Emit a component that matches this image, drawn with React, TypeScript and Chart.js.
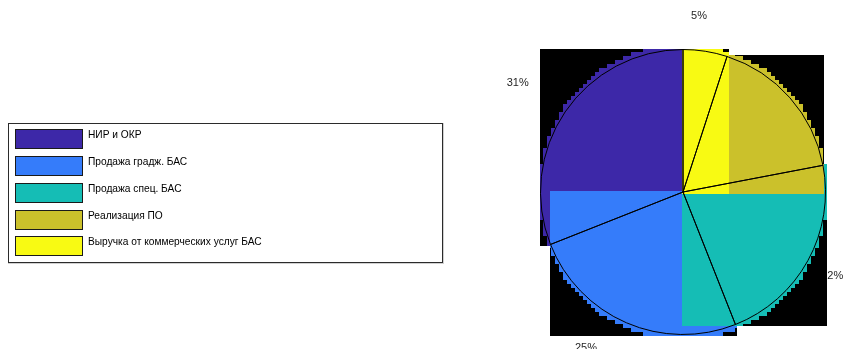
import React, { useEffect, useRef } from "react";
import { Chart, registerables } from "chart.js";

Chart.register(...registerables);

const categories = [
  "НИР и ОКР",
  "Продажа градж. БАС",
  "Продажа спец. БАС",
  "Реализация ПО",
  "Выручка от коммерческих услуг БАС",
];
const shares = [31, 25, 22, 17, 5];
const colors = ["#3d28a8", "#357cfa", "#15bdb5", "#cbc12b", "#f8fa13"];

// label placement styling (angle shift in degrees, radius factor)
const labelAngleShift = [0.8, -8.5, -0.7, 0, 3.8];
const labelRadiusFactor = [1.389, 1.288, 1.203, 1.1, 1.243];

const n = categories.length;
// Chart.js runs clockwise from the top; MATLAB-like order runs counter-clockwise
const dsIndex = (i: number) => n - 1 - i;

const matlabPlugin = {
  id: "matlabPie",
  beforeDatasetsDraw(chart: any) {
    const ctx = chart.ctx;
    const meta = chart.getDatasetMeta(0);
    const total = shares.reduce((a, b) => a + b, 0);
    // percentage labels (drawn first, occluded by the boxes later)
    ctx.save();
    ctx.font = "11px 'Liberation Sans', Arial, sans-serif";
    ctx.fillStyle = "#262626";
    ctx.textAlign = "center";
    ctx.textBaseline = "middle";
    for (let i = 0; i < n; i++) {
      const arc = meta.data[dsIndex(i)];
      const { x, y, outerRadius, startAngle, endAngle } = arc.getProps(
        ["x", "y", "outerRadius", "startAngle", "endAngle"],
        true
      );
      const mid = (startAngle + endAngle) / 2 - (labelAngleShift[i] * Math.PI) / 180;
      const rr = outerRadius * labelRadiusFactor[i];
      const txt = Math.round((shares[i] / total) * 100) + "%";
      ctx.fillText(txt, x + rr * Math.cos(mid), y + rr * Math.sin(mid));
    }
    ctx.restore();

    // per-slice bounding images: black box + stepped coloured disc
    for (let i = 0; i < n; i++) {
      const arc = meta.data[dsIndex(i)];
      const { x, y, outerRadius, startAngle, endAngle } = arc.getProps(
        ["x", "y", "outerRadius", "startAngle", "endAngle"],
        true
      );
      const R = outerRadius;
      const pts: number[][] = [[x, y]];
      pts.push([x + R * Math.cos(startAngle), y + R * Math.sin(startAngle)]);
      pts.push([x + R * Math.cos(endAngle), y + R * Math.sin(endAngle)]);
      const q = Math.PI / 2;
      for (let k = Math.ceil(startAngle / q); k <= Math.floor(endAngle / q); k++) {
        pts.push([x + R * Math.cos(k * q), y + R * Math.sin(k * q)]);
      }
      let x0 = Infinity, x1 = -Infinity, y0 = Infinity, y1 = -Infinity;
      pts.forEach(([px, py]) => {
        x0 = Math.min(x0, px);
        x1 = Math.max(x1, px);
        y0 = Math.min(y0, py);
        y1 = Math.max(y1, py);
      });
      x0 = Math.round(x0 - 1);
      y0 = Math.round(y0 - 1);
      x1 = Math.round(x1 + 1.5);
      y1 = Math.round(y1 + 1.5);
      ctx.save();
      ctx.fillStyle = "#000";
      ctx.fillRect(x0, y0, x1 - x0, y1 - y0);
      ctx.beginPath();
      ctx.rect(x0, y0, x1 - x0, y1 - y0);
      ctx.clip();
      ctx.fillStyle = colors[i];
      const Rf = R + 4;
      const step = 4;
      const cx = Math.round(x);
      const cy = Math.round(y);
      for (let yy = cy - Math.ceil(Rf / step) * step; yy < cy + Rf; yy += step) {
        const a = yy - cy;
        const b = yy + step - cy;
        const dyNear = a <= 0 && b >= 0 ? 0 : Math.min(Math.abs(a), Math.abs(b));
        if (dyNear >= Rf) continue;
        let hw = Math.sqrt(Rf * Rf - dyNear * dyNear);
        hw = Math.floor(hw / step) * step;
        ctx.fillRect(cx - hw, yy, 2 * hw, step);
      }
      ctx.restore();
    }
  },
  afterDraw(chart: any) {
    const ctx = chart.ctx;
    ctx.save();
    // legend box
    ctx.fillStyle = "#ffffff";
    ctx.fillRect(8, 123, 435, 140);
    ctx.strokeStyle = "#d0d0d0";
    ctx.lineWidth = 1;
    ctx.strokeRect(8.5, 123.5, 435, 140);
    ctx.strokeStyle = "#2b2b2b";
    ctx.strokeRect(8.5, 123.5, 434, 139);
    ctx.font = "10.2px 'Liberation Sans', Arial, sans-serif";
    ctx.textAlign = "left";
    ctx.textBaseline = "top";
    for (let i = 0; i < n; i++) {
      const top = Math.round(129 + i * 26.85);
      ctx.fillStyle = colors[i];
      ctx.fillRect(15, top, 68, 20);
      ctx.strokeStyle = "#1a1a1a";
      ctx.strokeRect(15.5, top + 0.5, 67, 19);
      ctx.fillStyle = "#000";
      ctx.fillText(categories[i], 88, top + 1);
    }
    ctx.restore();
  },
};

export default function App() {
  const ref = useRef<HTMLCanvasElement>(null);
  useEffect(() => {
    if (!ref.current) return;
    const data = shares.map((_, j) => shares[dsIndex(j)]);
    const chart = new Chart(ref.current, {
      type: "pie",
      data: {
        labels: categories.map((_, j) => categories[dsIndex(j)]),
        datasets: [
          {
            data,
            backgroundColor: "rgba(0,0,0,0)",
            borderColor: "#000000",
            borderWidth: 1,
          },
        ],
      },
      options: {
        responsive: false,
        animation: false,
        events: [],
        layout: { padding: { left: 540, right: 17, top: 48, bottom: 13 } },
        plugins: {
          legend: { display: false },
          tooltip: { enabled: false },
        },
      },
      plugins: [
        {
          id: "bg",
          beforeDraw(c: any) {
            c.ctx.save();
            c.ctx.fillStyle = "#fff";
            c.ctx.fillRect(0, 0, c.width, c.height);
            c.ctx.restore();
          },
        },
        matlabPlugin,
      ],
    });
    return () => chart.destroy();
  }, []);
  return (
    <div style={{ position: "absolute", left: 0, top: 0, width: 843, height: 349 }}>
      <canvas ref={ref} width={843} height={349} style={{ display: "block" }} />
    </div>
  );
}
